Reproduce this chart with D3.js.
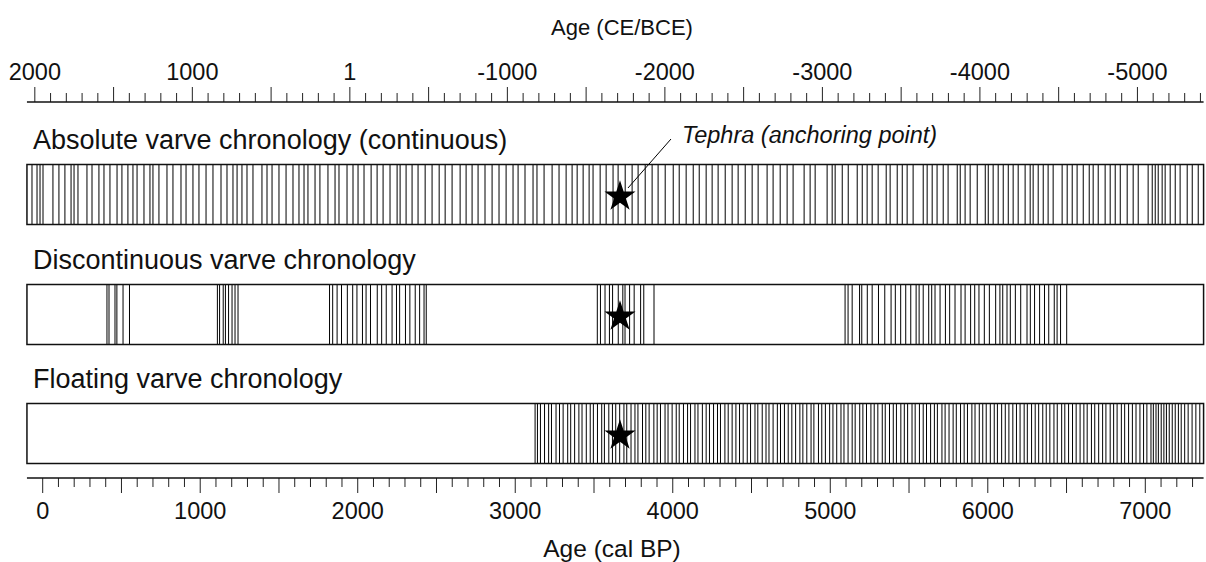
<!DOCTYPE html>
<html><head><meta charset="utf-8">
<script src="https://cdn.jsdelivr.net/npm/d3@7"></script>
<style>
html,body{margin:0;padding:0;background:#fff;}
text{font-family:"Liberation Sans",Arial,sans-serif;fill:#111;}
</style></head>
<body><svg id="c" width="1206" height="562"></svg>
<script>
// ---------- data (ages in cal BP) ----------
const boxExtent = [-100, 7370];
const bpTickLabels = ["0","1000","2000","3000","4000","5000","6000","7000"];
const bpTickValues = [0,1000,2000,3000,4000,5000,6000,7000];
const ceTickLabels = ["2000","1000","1","-1000","-2000","-3000","-4000","-5000"];
const ceTickValues = [2000,1000,1,-1000,-2000,-3000,-4000,-5000];
const panelTitles = ["Absolute varve chronology (continuous)","Discontinuous varve chronology","Floating varve chronology"];
const tephraAge = 3665;
const tephraLabel = "Tephra (anchoring point)";

const varvesAbsolute = [-68,-36,-17,2,65,103,141,180,199,224,281,313,357,389,427,472,503,541,573,599,643,681,700,738,789,827,878,910,954,992,1037,1081,1132,1170,1208,1234,1265,1297,1335,1392,1424,1456,1500,1545,1589,1627,1659,1684,1729,1760,1811,1856,1881,1932,1970,2002,2040,2085,2123,2161,2205,2250,
2269,2307,2345,2383,2428,2472,2517,2555,2599,2650,2688,2726,2764,2808,2853,2897,2942,2986,3018,3062,3113,3138,3183,3234,3278,3323,3361,3393,3431,3469,3494,3539,3577,3621,3653,3698,3742,3780,3825,3869,3907,3952,4003,4041,4085,4130,4168,4212,4250,4288,4333,4377,4415,4460,4504,4542,4599,4637,4682,4726,4764,
4834,4872,4904,4980,5012,5031,5076,5114,5171,5203,5234,5266,5304,5355,5380,5425,5457,5488,5526,5590,5615,5647,5678,5717,5748,5806,5825,5856,5888,5933,5984,6003,6034,6066,6098,6130,6161,6193,6237,6269,6288,6320,6352,6383,6415,6472,6504,6536,6567,6606,6644,6669,6701,6745,6777,6809,6841,6885,6923,6955,7018,7044,7063,7082,7107,7126,7158,7190,7221,7266,7298,7336];

const varvesDiscontinuous = [408,421,459,471,510,551,
1109,1123,1146,1160,1180,1202,1221,1240,
1821,1841,1869,1897,1934,1968,1995,2030,2053,2081,2124,2152,2181,2218,2246,2266,2303,2331,2365,2393,2421,2435,
3521,3541,3570,3598,3618,3654,3683,3697,3726,3755,3796,3816,3881,
5094,5113,5139,5186,5200,5235,5266,5306,5346,5386,5413,5447,5479,5511,5545,5564,5590,5625,5644,5665,5697,5731,5758,5792,5830,5856,5891,5917,5944,5978,6010,6050,6077,6095,6122,6143,6175,6209,6249,6270,6297,6329,6360,6387,6422,6440,6462,6501];

const varvesFloating = [3126,3141,3160,3186,3212,3230,3259,3281,3304,3333,3352,3377,3404,3424,3451,3476,3496,3522,3549,3566,3594,3617,3638,3663,3690,3708,3735,3760,3779,3808,3829,3850,3880,3901,3922,3951,3970,3996,4022,4041,4068,4094,4113,4141,4160,4188,4212,4233,4259,4284,4303,4331,4352,4377,4401,4424,4447,4473,4494,4522,4540,4568,4592,4611,4637,4664,4684,4709,4733,4756,4780,4807,4826,4851,4878,4896,4925,4946,4969,4996,5017,5041,5068,5087,5113,5139,5158,5187,5207,5230,5258,5279,5302,5330,5349,5376,5400,5420,5448,5470,5491,5519,5539,5566,5590,5611,5637,5661,5680,5709,5729,5754,5780,5800,5827,5850,5871,5899,5919,5946,5968,5990,6016,6041,6061,6088,6111,6134,6159,6182,6205,6231,6251,6278,6301,6323,6349,6371,6394,6420,6441,6469,6489,6513,6538,6561,6586,6610,6631,6658,6679,6704,6729,6750,6777,6799,6821,6848,6869,6894,6918,6941,6966,6989,7010,7036,7051,7068,7083,7101,7118,7134,7152,7171,7190,7210,7228,7250,7272,7297,7321,7346];

const panelVarves = [varvesAbsolute, varvesDiscontinuous, varvesFloating];

// ---------- drawing ----------
const svg = d3.select("#c");
const x = d3.scaleLinear().domain([0, 7000]).range([42.7, 1145.3]);
const xCE = d3.scaleLinear().domain([1950 - 0, 1950 - 7000]).range([42.7, 1145.3]);
const FS = 23.5;
const TFS = 27;

const panelTop = [164.5, 284.5, 403.5];
const panelH = 60;
const titleY = [149, 269, 388];

// top axis (CE/BCE)
const topY = 102;
const ceMinor = d3.range(2000, 1950 - boxExtent[1], -100);
const topG = svg.append("g").attr("transform", `translate(0,${topY})`);
topG.selectAll("line.t").data(ceMinor).join("line")
  .attr("x1", d => xCE(d)).attr("x2", d => xCE(d))
  .attr("y1", 0).attr("y2", d => (d % 500 === 0) ? -15 : -9)
  .attr("stroke", "#222").attr("stroke-width", 1);
topG.append("line").attr("x1", x(boxExtent[0])).attr("x2", x(boxExtent[1]))
  .attr("y1", 0).attr("y2", 0).attr("stroke", "#111").attr("stroke-width", 1.5);
topG.selectAll("text").data(ceTickValues).join("text")
  .attr("x", d => xCE(d)).attr("y", -22).attr("text-anchor", "middle")
  .attr("font-size", FS).text((d, i) => ceTickLabels[i]);
svg.append("text").attr("x", 622).attr("y", 35).attr("text-anchor", "middle")
  .attr("font-size", 22).text("Age (CE/BCE)");

// bottom axis (cal BP)
const botY = 478;
const bpMinor = d3.range(0, boxExtent[1], 100);
const botG = svg.append("g").attr("transform", `translate(0,${botY})`);
botG.selectAll("line.t").data(bpMinor).join("line")
  .attr("x1", d => x(d)).attr("x2", d => x(d))
  .attr("y1", 0).attr("y2", d => (d % 500 === 0) ? 15 : 9)
  .attr("stroke", "#222").attr("stroke-width", 1);
botG.append("line").attr("x1", x(boxExtent[0])).attr("x2", x(boxExtent[1]))
  .attr("y1", 0).attr("y2", 0).attr("stroke", "#111").attr("stroke-width", 1.5);
botG.selectAll("text").data(bpTickValues).join("text")
  .attr("x", d => x(d)).attr("y", 41).attr("text-anchor", "middle")
  .attr("font-size", FS).text((d, i) => bpTickLabels[i]);
svg.append("text").attr("x", 612).attr("y", 557).attr("text-anchor", "middle")
  .attr("font-size", 24.5).text("Age (cal BP)");

// panels
panelTitles.forEach((t, i) => {
  const g = svg.append("g");
  g.append("text").attr("x", 33).attr("y", titleY[i]).attr("font-size", TFS).text(t);
  g.selectAll("line.v").data(panelVarves[i]).join("line")
    .attr("x1", d => x(d)).attr("x2", d => x(d))
    .attr("y1", panelTop[i]).attr("y2", panelTop[i] + panelH)
    .attr("stroke", "#000").attr("stroke-width", 1);
  g.append("rect").attr("x", x(boxExtent[0])).attr("y", panelTop[i])
    .attr("width", x(boxExtent[1]) - x(boxExtent[0])).attr("height", panelH)
    .attr("fill", "none").attr("stroke", "#111").attr("stroke-width", 1.5);
  g.append("path").attr("d", d3.symbol(d3.symbolStar, 300)())
    .attr("transform", `translate(${x(tephraAge)},${panelTop[i] + panelH / 2 + 2})`)
    .attr("fill", "#000");
});

// tephra annotation
svg.append("line").attr("x1", x(tephraAge) + 8).attr("y1", 188)
  .attr("x2", x(tephraAge) + 51).attr("y2", 139)
  .attr("stroke", "#000").attr("stroke-width", 1);
svg.append("text").attr("x", 682).attr("y", 143).attr("font-size", 23.5)
  .attr("font-style", "italic").text(tephraLabel);
</script></body></html>
